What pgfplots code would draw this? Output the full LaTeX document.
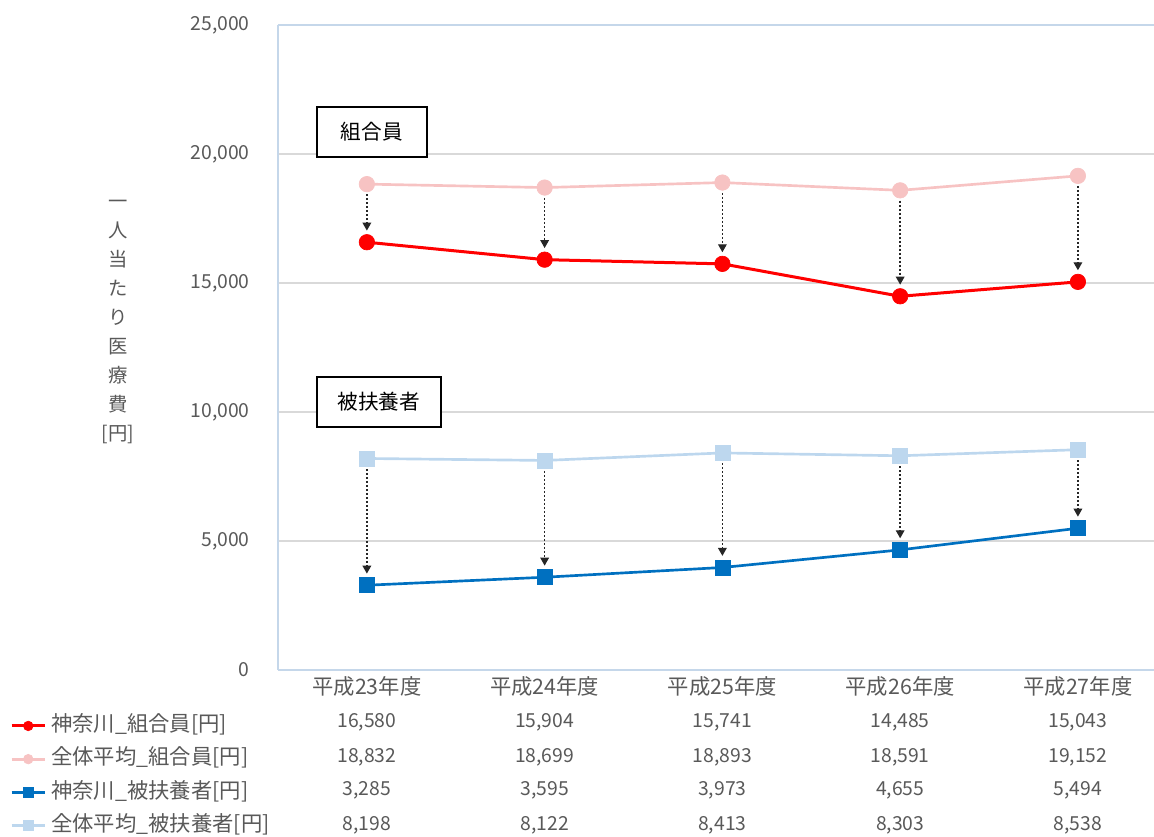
\documentclass[border=0pt]{standalone}
\usepackage{pgfplots}
\pgfplotsset{compat=1.18}
\usepackage{pgfplotstable}
\usepackage{fontspec}
\setmainfont{Noto Sans CJK JP}
\usetikzlibrary{arrows.meta}
\definecolor{kred}{HTML}{FF0000}
\definecolor{apink}{HTML}{F7C3C3}
\definecolor{kblue}{HTML}{0070C0}
\definecolor{ablue}{HTML}{BDD7EE}
\definecolor{txt}{HTML}{595959}
\definecolor{gridc}{HTML}{D9D9D9}
\definecolor{axc}{HTML}{C5D7EA}

\pgfplotstableread{
x kmem amem kdep adep
0 16580 18832 3285 8198
1 15904 18699 3595 8122
2 15741 18893 3973 8413
3 14485 18591 4655 8303
4 15043 19152 5494 8538
}\datatable

\begin{document}
\begin{tikzpicture}
\useasboundingbox (-208.5pt,-125.25pt) rectangle (657pt,502.5pt);
\begin{axis}[
  at={(0pt,0pt)}, anchor=south west,
  scale only axis, width=657pt, height=483.75pt,
  xmin=-0.5, xmax=4.428, ymin=0, ymax=25000,
  clip=false,
  axis x line*=bottom, axis y line*=left,
  axis line style={-, draw=axc, line width=1pt},
  xtick={0,1,2,3,4},
  xticklabels={平成23年度,平成24年度,平成25年度,平成26年度,平成27年度},
  ytick={0,5000,10000,15000,20000,25000},
  ymajorgrids, grid style={gridc, line width=1pt},
  major tick length=0pt,
  scaled y ticks=false,
  /pgf/number format/1000 sep={,},
  /pgf/number format/assume math mode=true,
  tick label style={font=\fontsize{14.5}{17}\selectfont, text=txt, inner sep=0pt},
  yticklabel style={anchor=east, xshift=-21pt},
  xticklabel style={anchor=north, yshift=-5pt, font=\fontsize{16}{18}\selectfont},
  ylabel={一\\人\\当\\た\\り\\医\\療\\費\\{[円]}},
  ylabel style={rotate=-90, at={(axis description cs:-0.1826,0.5395)}, anchor=center, align=center, font=\fontsize{14.5}{21.75}\selectfont, text=txt, inner sep=0pt},
  legend style={at={(-0.3105,-0.0662)}, anchor=north west, draw=none, fill=none,
    font=\fontsize{16}{18}\selectfont, text=txt, row sep=9.4pt, column sep=3.75pt,
    nodes={inner sep=0pt, text height=12pt, text depth=3.5pt}},
  legend cell align=left,
  legend image code/.code={\draw[mark repeat=2,mark phase=2] plot coordinates {(0pt,0pt)(12.4pt,0pt)(24.8pt,0pt)};},
  legend image post style={mark size=3.6pt, line width=2.2pt},
]
\draw[axc, line width=1pt] (rel axis cs:0,1) -- (rel axis cs:1,1);

\addplot[kred, line width=2.25pt, mark=*, mark size=5.8pt, mark options={solid, line width=0.5pt}] table[x=x,y=kmem]{\datatable};
\addlegendentry{神奈川\_組合員[円]}
\addplot[apink, line width=2pt, mark=*, mark size=5.8pt, mark options={solid, line width=0.5pt}] table[x=x,y=amem]{\datatable};
\addlegendentry{全体平均\_組合員[円]}
\addplot[kblue, line width=2pt, mark=square*, mark size=5.6pt, mark options={solid, line width=0.5pt}] table[x=x,y=kdep]{\datatable};
\addlegendentry{神奈川\_被扶養者[円]}
\addplot[ablue, line width=2pt, mark=square*, mark size=5.6pt, mark options={solid, line width=0.5pt}] table[x=x,y=adep]{\datatable};
\addlegendentry{全体平均\_被扶養者[円]}

% arrows from average to Kanagawa
\addplot[forget plot, black!85, line width=1pt, dash pattern=on 1.5pt off 1.5pt,
  -{Triangle[length=6pt,width=6.5pt]},
  quiver={u=0, v=\thisrow{kmem}-\thisrow{amem}+850}]
  table[x=x, y expr=\thisrow{amem}-400]{\datatable};
\addplot[forget plot, black!85, line width=1pt, dash pattern=on 1.5pt off 1.5pt,
  -{Triangle[length=6pt,width=6.5pt]},
  quiver={u=0, v=\thisrow{kdep}-\thisrow{adep}+850}]
  table[x=x, y expr=\thisrow{adep}-400]{\datatable};

% data table rows
\pgfplotsset{tablerow/.style={forget plot, draw=none, mark=none,
  nodes near coords={\pgfmathprintnumber{\pgfplotspointmeta}},
  every node near coord/.append style={anchor=center, inner sep=0pt, font=\fontsize{14.5}{17}\selectfont, text=txt}}}
\addplot[tablerow, point meta=\thisrow{kmem}] table[x=x, y expr=-2016]{\datatable};
\addplot[tablerow, point meta=\thisrow{amem}] table[x=x, y expr=-3372]{\datatable};
\addplot[tablerow, point meta=\thisrow{kdep}] table[x=x, y expr=-4651]{\datatable};
\addplot[tablerow, point meta=\thisrow{adep}] table[x=x, y expr=-6008]{\datatable};

% text boxes
\node[draw=black, line width=1.1pt, fill=white, minimum width=82.5pt, minimum height=37.5pt, inner sep=0pt, font=\fontsize{15.5}{18}\selectfont] at (axis cs:0.028,20853) {組合員};
\node[draw=black, line width=1.1pt, fill=white, minimum width=93pt, minimum height=37.5pt, inner sep=0pt, font=\fontsize{15.5}{18}\selectfont] at (axis cs:0.0675,10388) {被扶養者};
\end{axis}
\end{tikzpicture}
\end{document}
